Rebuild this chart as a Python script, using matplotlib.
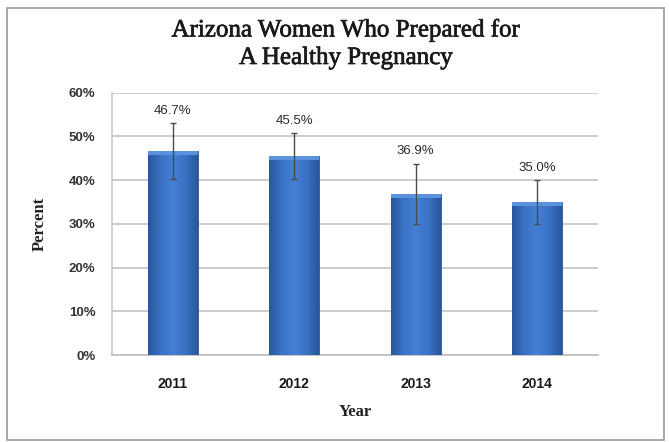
import matplotlib
matplotlib.use("Agg")
import matplotlib.pyplot as plt
import matplotlib.patheffects as pe
import numpy as np
from matplotlib.patches import Rectangle
from matplotlib.colors import LinearSegmentedColormap

years = ["2011", "2012", "2013", "2014"]
values = [46.7, 45.5, 36.9, 35.0]
err_low = [40.2, 40.2, 30.0, 30.0]
err_high = [53.0, 50.7, 43.8, 40.0]
labels = ["46.7%", "45.5%", "36.9%", "35.0%"]
yticks = [0, 10, 20, 30, 40, 50, 60]

fig = plt.figure(figsize=(6.69, 4.42), dpi=100)
fig.patches.append(Rectangle((7/669, 1-440/442), 657/669, 432/442, transform=fig.transFigure,
                             fill=False, edgecolor="#9a9a9a", lw=1.2))
ax = fig.add_axes([112/669, 1-355/442, 486/669, 262.3/442])

x = np.arange(len(years))
bars = ax.bar(x, values, width=0.41, color="#3b70c2", edgecolor="#2b5596", lw=0.6, zorder=3)

cmap = LinearSegmentedColormap.from_list("cyl", ["#2a569a", "#3a72c4", "#4580d2", "#3a72c4", "#2a569a"])
grad = np.linspace(0, 1, 256).reshape(1, -1)
for b in bars:
    x0, w, h = b.get_x(), b.get_width(), b.get_height()
    im = ax.imshow(grad, cmap=cmap, extent=[x0, x0 + w, 0, h], aspect="auto", zorder=3.5)
    im.set_clip_path(b)
    top = Rectangle((x0, h - 0.9), w, 0.9, color="#5a92de", zorder=3.6, lw=0)
    ax.add_patch(top)

yerr = [np.array(values) - np.array(err_low), np.array(err_high) - np.array(values)]
ax.errorbar(x, values, yerr=yerr, fmt="none", ecolor="#4a4a4a", elinewidth=1.0,
            capsize=2, capthick=1.0, zorder=5)

for xi, hi, lab in zip(x, err_high, labels):
    ax.annotate(lab, (xi, hi), xytext=(0, 9), textcoords="offset points",
                ha="center", va="center", fontsize=9.5, color="#2a2a2a",
                family="Liberation Sans", zorder=6)

ax.set_xlim(-0.5, len(years) - 0.5)
ax.set_ylim(0, 60)
ax.set_yticks(yticks)
ax.set_yticklabels([f"{t}%" for t in yticks], fontsize=9.5, fontweight="bold",
                   color="#333333", family="Liberation Sans")
ax.set_xticks(x)
ax.set_xticklabels(years, fontsize=10, fontweight="bold", color="#1a1a1a", family="Liberation Sans")
ax.tick_params(axis="y", length=0, pad=12)
ax.tick_params(axis="x", length=0, pad=16)
ax.grid(axis="y", color="#c8c8c8", lw=1.3, zorder=0)
for s in ["top", "right"]:
    ax.spines[s].set_visible(False)
ax.spines["left"].set_color("#c8c8c8")
ax.spines["left"].set_linewidth(1.2)
ax.spines["bottom"].set_color("#c0c0c0")
ax.spines["bottom"].set_linewidth(1.3)

ax.set_ylabel("Percent", fontsize=12, fontweight="bold", family="Liberation Serif",
              color="#222222", labelpad=15)
ax.set_xlabel("Year", fontsize=12, fontweight="bold", family="Liberation Serif",
              color="#222222", labelpad=9)

for ty, txt in [(30, "Arizona Women Who Prepared for"), (58, "A Healthy Pregnancy")]:
    fig.text(346/669, 1-ty/442, txt, ha="center", va="center",
             fontsize=18, family="Liberation Serif", color="#1a1a1a",
             path_effects=[pe.withStroke(linewidth=0.5, foreground="#1a1a1a")])

fig.savefig("out.png", dpi=100)
